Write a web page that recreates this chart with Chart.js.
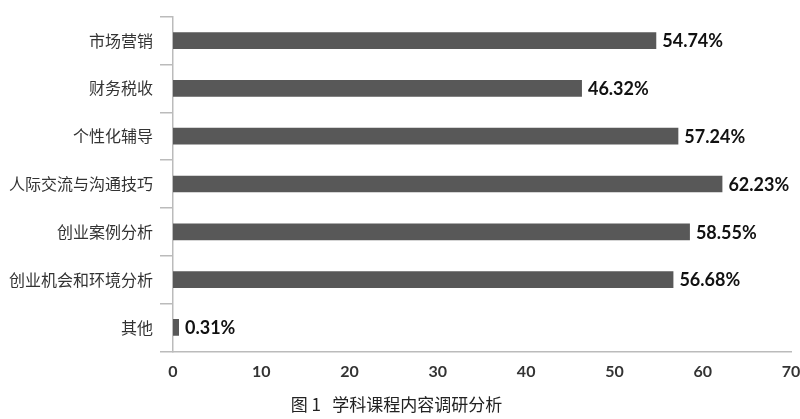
<!DOCTYPE html>
<html>
<head>
<meta charset="utf-8">
<script src="https://cdn.jsdelivr.net/npm/chart.js@4/dist/chart.umd.min.js"></script>
<style>
  body { margin: 0; background: #fff; }
  #wrap { width: 800px; height: 419px; }
</style>
</head>
<body>
<div id="wrap"><canvas id="myChart" width="800" height="419"></canvas></div>
<script>
var categories = ['市场营销', '财务税收', '个性化辅导', '人际交流与沟通技巧', '创业案例分析', '创业机会和环境分析', '其他'];
var percents = [54.74, 46.32, 57.24, 62.23, 58.55, 56.68, 0.31];
var xTicks = [0, 10, 20, 30, 40, 50, 60, 70];
var caption = '图 1   学科课程内容调研分析';

// writes the percent next to the end of each bar
var valueLabels = {
  id: 'valueLabels',
  afterDatasetsDraw: function(chart) {
    var ctx = chart.ctx;
    var meta = chart.getDatasetMeta(0);
    ctx.save();
    ctx.font = 'bold 18px Lato';
    ctx.fillStyle = '#111';
    ctx.textBaseline = 'middle';
    ctx.textAlign = 'left';
    meta.data.forEach(function(bar, i) {
      ctx.fillText(percents[i].toFixed(2) + '%', bar.x + 6, bar.y + 1);
    });
    ctx.restore();
  }
};

new Chart("myChart", {
  type: "bar",
  data: {
    labels: categories,
    datasets: [{
      data: percents,
      backgroundColor: '#585858',
      borderWidth: 0,
      categoryPercentage: 1,
      barPercentage: 0.35,
      minBarLength: 6
    }]
  },
  plugins: [valueLabels],
  options: {
    indexAxis: 'y',
    responsive: false,
    animation: false,
    layout: {
      padding: { top: 10, left: 2, right: 9, bottom: 0 }
    },
    plugins: {
      legend: { display: false },
      tooltip: { enabled: false },
      title: {
        display: true,
        position: 'bottom',
        text: caption,
        color: '#222',
        font: { size: 17, weight: 'normal', family: 'Noto Sans CJK SC' },
        padding: { top: 2, bottom: 4 }
      }
    },
    scales: {
      x: {
        min: 0,
        max: 70,
        afterBuildTicks: function(axis) {
          axis.ticks = xTicks.map(function(v) { return { value: v }; });
        },
        afterFit: function(axis) {
          axis.paddingRight = 0;
        },
        ticks: {
          padding: 11,
          color: '#333',
          font: { size: 16, weight: 'bold', family: 'Lato' }
        },
        grid: {
          display: false,
          drawTicks: false
        },
        border: { display: true, color: '#bbb', width: 1.5 }
      },
      y: {
        ticks: {
          padding: 7,
          color: '#333',
          font: { size: 16, family: 'Noto Sans CJK SC' }
        },
        grid: {
          drawOnChartArea: false,
          color: '#bbb',
          tickLength: 13,
          lineWidth: 1.5
        },
        border: { display: true, color: '#bbb', width: 1.5 }
      }
    }
  }
});
</script>
</body>
</html>
